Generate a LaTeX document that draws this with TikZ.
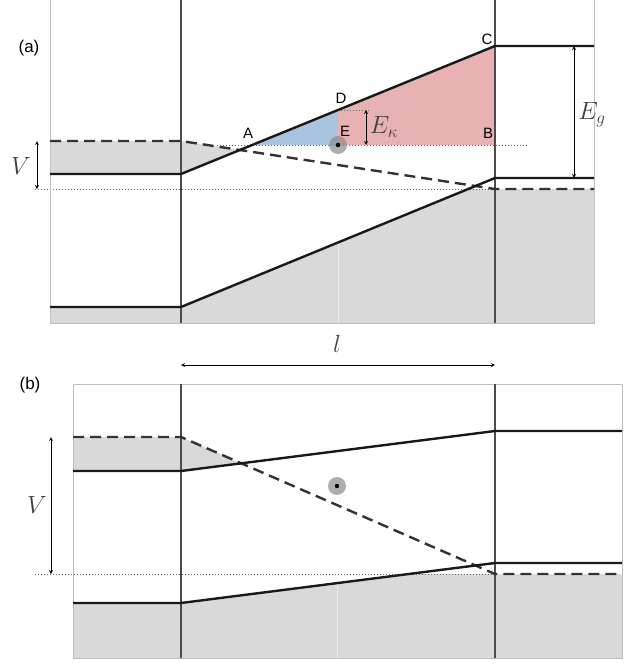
\documentclass[tikz,border=0pt]{standalone}
\usepackage{fontspec}
\newfontfamily\labelfont{Liberation Sans}
\definecolor{holeblue}{HTML}{A9C4E0}
\definecolor{tunnelred}{HTML}{E8B2B2}
\definecolor{bandgray}{HTML}{D9D9D9}
\tikzset{
  band/.style={black!90, line width=2.4pt},
  fermi/.style={black!80, line width=2.4pt, dash pattern=on 11pt off 6pt},
  wall/.style={black!70, line width=1.3pt},
  frame/.style={black!25, line width=0.8pt},
  guide/.style={black!60, line width=0.5pt, dash pattern=on 1pt off 2pt},
  dim/.style={black, line width=0.8pt, <->, >=stealth},
  letter/.style={font=\labelfont\fontsize{15}{17}\selectfont},
  panel/.style={font=\labelfont\fontsize{17}{19}\selectfont},
  mathlbl/.style={text=black!75, font=\fontsize{23}{26}\selectfont},
  electron/.style={circle, minimum size=18pt, inner sep=0pt, fill=black!45, fill opacity=0.7}
}
\begin{document}
\begin{tikzpicture}[x=1pt, y=-1pt]
  \useasboundingbox (0,0) rectangle (638,664);
  % ---------- (a) ----------
  \fill [bandgray] (50,141) -- (181,141) -- (intersection of 181,141--495,189 and 181,174--495,46) -- (181,174) -- (50,174) -- cycle;
  \fill [bandgray] (50,307) -- (181,307) -- (intersection of 181,307--495,178 and 0,189--600,189) -- (594,189) -- (594,323) -- (50,323) -- cycle;
  \draw [white!92!black, line width=0.8pt] (338,243) -- (338,323);
  \fill [holeblue] (252,145) -- (338,110) -- (338,145) -- cycle;
  \fill [tunnelred] (338,110) -- (495,46) -- (495,145) -- (338,145) -- cycle;
  \draw [guide] (35,189) -- (495,189);
  \draw [guide] (217,145) -- (528,145);
  \draw [guide] (338,110) -- (370,110);
  \draw [frame] (50,0) -- (50,323) -- (594,323) -- (594,0);
  \foreach \x in {181, 495}
    \draw [wall] (\x,0) -- (\x,323);
  \draw [fermi] (50,141) -- (181,141) -- (495,189) -- (594,189);
  \draw [band] (50,174) -- (181,174) -- (495,46) -- (594,46);
  \draw [band] (50,307) -- (181,307) -- (495,178) -- (594,178);
  % arrows of (a)
  \coordinate (vtopA) at (37,141);
  \coordinate (vbotA) at (37,189);
  \coordinate (ektop) at (366,110);
  \coordinate (ekbot) at (366,145);
  \coordinate (egtop) at (574,46);
  \coordinate (egbot) at (574,178);
  \draw [dim] (vtopA) -- (vbotA);
  \draw [dim] (ektop) -- (ekbot);
  \draw [dim] (egtop) -- (egbot);
  \node (vA) [mathlbl] at (21,166) {$V$};
  \node (ek) [mathlbl] at (384,127) {$E_\kappa$};
  \node (eg) [mathlbl] at (592,115) {$E_g$};
  % points A--E
  \node (ptA) [letter] at (248,133) {A};
  \node (ptB) [letter] at (488,133) {B};
  \node (ptC) [letter] at (487,39) {C};
  \node (ptD) [letter] at (341,98) {D};
  \node (ptE) [letter] at (345,131) {E};
  \node (elecA) [electron] at (338,145) {};
  \fill [black] (elecA) circle (2.2pt);
  \node (capA) [panel] at (29,48) {(a)};
  % ---------- length l ----------
  \coordinate (lleft) at (181,365);
  \coordinate (lright) at (495,365);
  \draw [dim] (lleft) -- (lright);
  \node (len) [mathlbl, font=\fontsize{28}{30}\selectfont] at (337,344) {$l$};
  % ---------- (b) ----------
  \fill [bandgray] (73,437) -- (181,437) -- (intersection of 181,437--495,574 and 181,471--495,431) -- (181,471) -- (73,471) -- cycle;
  \fill [bandgray] (73,603) -- (181,603) -- (intersection of 181,603--495,563 and 0,574--640,574) -- (622,574) -- (622,658) -- (73,658) -- cycle;
  \draw [white!92!black, line width=0.8pt] (337,583) -- (337,658);
  \draw [guide] (35,574) -- (495,574);
  \draw [frame] (73,384) rectangle (622,658);
  \foreach \x in {181, 495}
    \draw [wall] (\x,384) -- (\x,658);
  \draw [fermi] (73,437) -- (181,437) -- (495,574) -- (622,574);
  \draw [band] (73,471) -- (181,471) -- (495,431) -- (622,431);
  \draw [band] (73,603) -- (181,603) -- (495,563) -- (622,563);
  \coordinate (vtopB) at (51,437);
  \coordinate (vbotB) at (51,574);
  \draw [dim] (vtopB) -- (vbotB);
  \node (vB) [mathlbl] at (37,505) {$V$};
  \node (elecB) [electron] at (337,486) {};
  \fill [black] (elecB) circle (2.2pt);
  \node (capB) [panel] at (30,385) {(b)};
\end{tikzpicture}
\end{document}
